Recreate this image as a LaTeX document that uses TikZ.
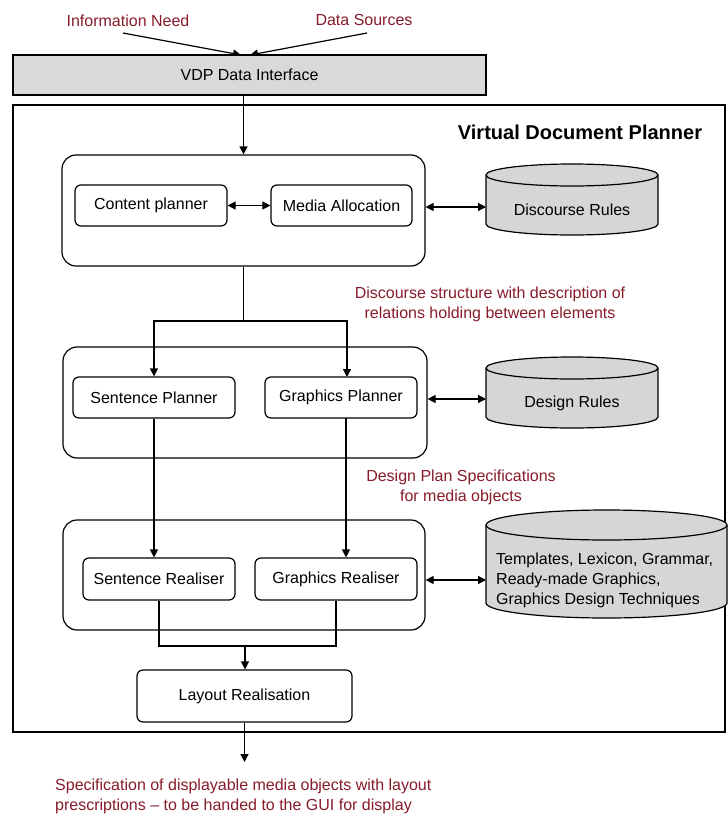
\documentclass[tikz,border=0pt]{standalone}
\usepackage{fontspec}
\setmainfont{Liberation Sans}
\usetikzlibrary{arrows.meta}

\definecolor{notered}{RGB}{135,28,42}
\definecolor{boxgray}{RGB}{217,217,217}
\definecolor{dbgray}{RGB}{214,214,214}

% database drum: left x, right x, top y, bottom y, ellipse half-height
\newcommand\dbcylinder[5]{%
  \pgfmathsetmacro\dbrx{(#2-#1)/2}%
  \filldraw[cylline] (#1,#3+#5) -- (#1,#4-#5)
    arc[start angle=180,end angle=360,x radius=\dbrx pt,y radius=#5 pt]
    -- (#2,#3+#5)
    arc[start angle=0,end angle=180,x radius=\dbrx pt,y radius=#5 pt] -- cycle;
  \draw[cylline] (#1,#3+#5)
    arc[start angle=180,end angle=360,x radius=\dbrx pt,y radius=#5 pt];
}

\tikzset{
  lw/.style={line width=1.2pt},
  inbox/.style={draw, lw, rounded corners=6pt, inner sep=0pt},
  group/.style={draw, lw, rounded corners=14pt, inner sep=0pt},
  grayrect/.style={draw, lw, fill=boxgray, inner sep=0pt},
  cylline/.style={lw, fill=dbgray, draw=black},
  notetext/.style={text=notered, inner sep=0pt},
  arr/.style={lw, -{Triangle[length=8pt,width=8pt]}},
  darr/.style={lw, {Triangle[length=8pt,width=8pt]}-{Triangle[length=8pt,width=8pt]}},
  plain/.style={lw},
}

\begin{document}
\begin{tikzpicture}[x=1pt, y=-1pt, font=\fontsize{16}{20}\selectfont]
  \fill[white] (0,0) rectangle (728,817);
  \useasboundingbox (0,0) rectangle (728,817);

  % inputs
  \node[notetext] (need) at (128,21) {Information Need};
  \node[notetext] (src) at (364,20) {Data Sources};
  \coordinate (need-tail) at (123,33);
  \coordinate (src-tail) at (367,33);
  \coordinate (in-l) at (241,55);
  \coordinate (in-r) at (250,55);
  \draw[arr] (need-tail) -- (in-l);
  \draw[arr] (src-tail) -- (in-r);

  % data interface
  \node[grayrect, minimum width=473pt, minimum height=40pt] (vdp) at (249.5,75) {VDP Data Interface};

  % planner frame
  \node[draw, lw, minimum width=712pt, minimum height=627pt, inner sep=0pt] (frame) at (369,418.5) {};
  \node[font=\bfseries\fontsize{20}{24}\selectfont] (title) at (580,132) {Virtual Document Planner};

  % stage 1
  \node[group, minimum width=363pt, minimum height=111pt] (g1) at (243.5,210.5) {};
  \node[inbox, minimum width=152pt, minimum height=41pt] (cp) at (151,205.5) {Content planner};
  \node[inbox, minimum width=141pt, minimum height=41pt] (ma) at (341.5,205.5) {Media Allocation};
  \draw[darr] (cp.east) -- (ma.west);

  \dbcylinder{486}{658}{164}{235}{11}
  \node (disc) at (572,210) {Discourse Rules};
  \coordinate (disc-w) at (486,207);
  \draw[darr] (g1.east |- disc-w) -- (disc-w);

  \draw[arr] (vdp.south -| g1.north) -- (g1.north);

  % stage 2
  \node[group, minimum width=364pt, minimum height=111pt] (g2) at (245,402.5) {};
  \node[inbox, minimum width=162pt, minimum height=41pt] (sp) at (154,397.5) {Sentence Planner};
  \node[inbox, minimum width=152pt, minimum height=41pt] (gp) at (341,397.5) {Graphics Planner};

  \coordinate (split) at (243.5,321);
  \coordinate (gp-in) at (347,377);
  \draw[plain] (g1.south) -- (split);
  \draw[arr] (split) -| (sp.north);
  \draw[arr] (split) -| (gp-in);

  \node[notetext, align=center] (dlabel) at (490,304) {Discourse structure with description of\\relations holding between elements};

  \dbcylinder{486}{658}{357}{428}{11}
  \node (design) at (572,403) {Design Rules};
  \coordinate (design-w) at (486,399);
  \draw[darr] (g2.east |- design-w) -- (design-w);

  \node[notetext, align=center] (plabel) at (461,487) {Design Plan Specifications\\for media objects};

  % stage 3
  \node[group, minimum width=362pt, minimum height=110pt] (g3) at (244,575) {};
  \node[inbox, minimum width=152pt, minimum height=42pt] (sr) at (159,579) {Sentence Realiser};
  \node[inbox, minimum width=162pt, minimum height=42pt] (gr) at (336,579) {Graphics Realiser};

  \coordinate (gp-out) at (346,418);
  \draw[arr] (sp.south) -- (sp.south |- sr.north);
  \draw[arr] (gp-out) -- (gp-out |- gr.north);

  \dbcylinder{486}{727}{510}{618}{15}
  \node[align=left, anchor=west, inner sep=0pt] (lex) at (496,580) {Templates, Lexicon, Grammar,\\Ready-made Graphics,\\Graphics Design Techniques};
  \coordinate (lex-w) at (486,580);
  \draw[darr] (g3.east |- lex-w) -- (lex-w);

  % layout
  \node[inbox, minimum width=215pt, minimum height=52pt] (lr) at (244.5,696) {Layout Realisation};
  \coordinate (merge) at (245,646);
  \draw[plain] (sr.south) |- (merge) -| (gr.south);
  \draw[arr] (merge) -- (merge |- lr.north);

  \coordinate (out) at (245,762);
  \draw[arr] (lr.south) -- (lr.south |- out);

  \node[notetext, align=left, anchor=north west] (outtext) at (55,779) {Specification of displayable media objects with layout\\prescriptions -- to be handed to the GUI for display};
\end{tikzpicture}
\end{document}
